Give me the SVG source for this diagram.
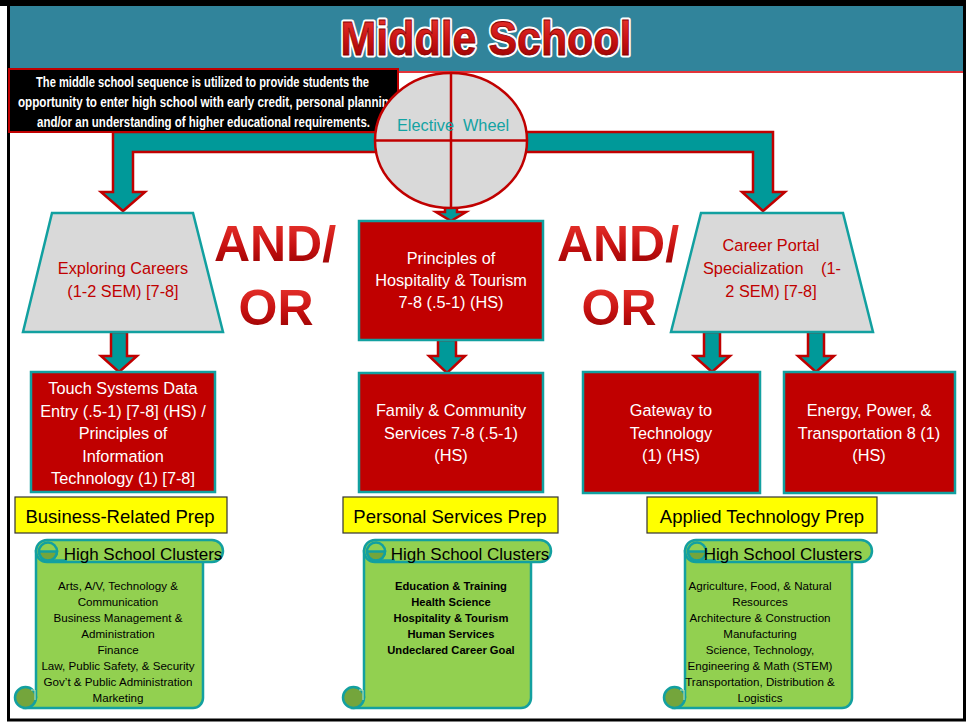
<svg xmlns="http://www.w3.org/2000/svg" width="969" height="723" viewBox="0 0 969 723">
<defs>
<linearGradient id="redGrad" x1="0" y1="0" x2="0" y2="1">
<stop offset="0" stop-color="#ee3b33"/>
<stop offset="0.55" stop-color="#c61010"/>
<stop offset="1" stop-color="#8c0000"/>
</linearGradient>
<g id="scroll">
<path d="M21,11 H188 V158 A10,10 0 0 1 178,168 H10.5 L21,157.5 Z" class="scr"/>
<circle cx="10.5" cy="157.5" r="10.5" class="curl"/>
<path d="M16,150 L20,150 L20,160" fill="none" stroke="#cfe8b0" stroke-width="1"/>
<rect x="21" y="0" width="187" height="22" rx="11" class="scr"/>
<circle cx="33" cy="11.5" r="9" class="scr"/>
<path d="M24,11.5 A9,9 0 0 0 42,11.5 Z" class="curl"/>
<path d="M33,20.5 H52" fill="none" stroke="#13a0a0" stroke-width="2.5"/>
</g>
</defs>
<style>
.frame{fill:none;stroke:#000;stroke-width:3}
.conn{fill:#009999;stroke:#c00000;stroke-width:2.5;stroke-linejoin:miter}
.trap{fill:#d9d9d9;stroke:#12a0a0;stroke-width:2.5}
.rbox{fill:#c00000;stroke:#12a0a0;stroke-width:2.5}
.ybox{fill:#ffff00;stroke:#333;stroke-width:1.2}
.scr{fill:#92d050;stroke:#13a0a0;stroke-width:2.5}
.curl{fill:#74a53c;stroke:#13a0a0;stroke-width:2.5}
text{font-family:"Liberation Sans",Arial,sans-serif}
.wt{fill:#fff;font-size:16.3px;text-anchor:middle}
.rt{fill:#c00000;font-size:16.3px;text-anchor:middle}
.yt{fill:#000;font-size:18.5px;text-anchor:middle}
.hs{fill:#000;font-size:17px;text-anchor:middle}
.li{fill:#000;font-size:11.6px;text-anchor:middle}
.lb{fill:#000;font-size:11.2px;font-weight:bold;text-anchor:middle}
.ao{fill:url(#redGrad);font-size:50px;font-weight:bold;text-anchor:middle}
.intro{fill:#fff;font-size:15px;font-weight:bold}
</style>
<rect x="0" y="0" width="969" height="723" fill="#fff"/>
<!-- title bar -->
<g id="title">
<rect x="0" y="0" width="966" height="6" fill="#000"/>
<rect x="9" y="6" width="955" height="65" fill="#31849b"/>
<line x1="9" y1="72" x2="964" y2="72" stroke="#e3343a" stroke-width="2"/>
<text x="486" y="55" font-size="48" font-weight="bold" text-anchor="middle" textLength="291" lengthAdjust="spacingAndGlyphs" fill="#fff" stroke="#fff" stroke-width="5" stroke-linejoin="round">Middle School</text>
<text x="486" y="55" font-size="48" font-weight="bold" text-anchor="middle" textLength="291" lengthAdjust="spacingAndGlyphs" fill="url(#redGrad)" stroke="#8a0000" stroke-width="0.8">Middle School</text>
</g>
<rect x="8.5" y="3" width="956" height="717" class="frame"/>
<!-- connectors -->
<g id="connectors">
<path class="conn" d="M113,132 H773 V192 H785 L763,211 L742,192 H753 V152 H133 V192 H145 L123,211 L101,192 H113 Z"/>
<path class="conn" d="M445,202 H457 V212 H466 L451,221 L436,212 H445 Z"/>
<path class="conn" d="M111,332 H127 V356 H137 L119,372 L101,356 H111 Z"/>
<path class="conn" d="M438,340 H456 V356 H465 L447,373 L429,356 H438 Z"/>
<path class="conn" d="M704,332 H720 V356 H730 L712,372 L694,356 H704 Z"/>
<path class="conn" d="M808,332 H824 V356 H834 L816,372 L798,356 H808 Z"/>
</g>
<g id="intro">
<rect x="9" y="69" width="389" height="63" fill="#000" stroke="#c00000" stroke-width="2"/>
<g transform="scale(0.7,1)">
<text class="intro" x="51.43" y="87" textLength="475.7" lengthAdjust="spacingAndGlyphs">The middle school sequence is utilized to provide students the</text>
<text class="intro" x="25.71" y="107" textLength="540" lengthAdjust="spacingAndGlyphs">opportunity to enter high school with early credit, personal planning</text>
<text class="intro" x="52.86" y="127" textLength="475.7" lengthAdjust="spacingAndGlyphs">and/or an understanding of higher educational requirements.</text>
</g>
</g>
<g id="elective-wheel">
<ellipse cx="451" cy="140.5" rx="76" ry="67.5" fill="#d9d9d9" stroke="#c00000" stroke-width="2.5"/>
<line x1="451" y1="73" x2="451" y2="208" stroke="#c00000" stroke-width="2.5"/>
<line x1="375" y1="140.5" x2="527" y2="140.5" stroke="#c00000" stroke-width="2.5"/>
<text y="131" font-size="16.3" fill="#13a3a3"><tspan x="397">Elective</tspan><tspan x="463">Wheel</tspan></text>
</g>
<g id="exploring-careers">
<path class="trap" d="M52,213 L193,213 L223,332 L23,332 Z"/>
<text class="rt" x="123" y="274">Exploring Careers</text>
<text class="rt" x="123" y="297">(1-2 SEM) [7-8]</text>
</g>
<g id="principles-hospitality">
<rect class="rbox" x="359" y="221" width="184" height="119"/>
<text class="wt" x="451" y="264">Principles of</text>
<text class="wt" x="451" y="286">Hospitality &amp; Tourism</text>
<text class="wt" x="451" y="308">7-8 (.5-1) (HS)</text>
</g>
<g id="career-portal">
<path class="trap" d="M701,213 L843,213 L873,332 L671,332 Z"/>
<text class="rt" x="771" y="251">Career Portal</text>
<text class="rt" y="274"><tspan x="703" text-anchor="start">Specialization</tspan></text>
<text class="rt" y="274"><tspan x="841" text-anchor="end">(1-</tspan></text>
<text class="rt" x="771" y="297">2 SEM) [7-8]</text>
</g>
<g id="and-or-1">
<text class="ao" x="275" y="261">AND/</text>
<text class="ao" x="276" y="325">OR</text>
</g>
<g id="and-or-2">
<text class="ao" x="618" y="261">AND/</text>
<text class="ao" x="619" y="325">OR</text>
</g>
<g id="touch-systems">
<rect class="rbox" x="31" y="372" width="184" height="120"/>
<text class="wt" x="123" y="394">Touch Systems Data</text>
<text class="wt" x="123" y="416.5">Entry (.5-1) [7-8] (HS) /</text>
<text class="wt" x="123" y="439">Principles of</text>
<text class="wt" x="123" y="461.5">Information</text>
<text class="wt" x="123" y="484">Technology (1) [7-8]</text>
</g>
<g id="family-community">
<rect class="rbox" x="359" y="373" width="184" height="119"/>
<text class="wt" x="451" y="416">Family &amp; Community</text>
<text class="wt" x="451" y="438.5">Services 7-8 (.5-1)</text>
<text class="wt" x="451" y="461">(HS)</text>
</g>
<g id="gateway">
<rect class="rbox" x="583" y="372" width="177" height="121"/>
<text class="wt" x="671" y="416">Gateway to</text>
<text class="wt" x="671" y="438.5">Technology</text>
<text class="wt" x="671" y="461">(1) (HS)</text>
</g>
<g id="energy-power">
<rect class="rbox" x="784" y="372" width="171" height="121"/>
<text class="wt" x="869" y="416">Energy, Power, &amp;</text>
<text class="wt" x="869" y="438.5">Transportation 8 (1)</text>
<text class="wt" x="869" y="461">(HS)</text>
</g>
<g id="business-prep">
<rect class="ybox" x="15" y="497" width="212" height="36"/>
<text class="yt" x="120" y="523">Business-Related Prep</text>
</g>
<g id="personal-prep">
<rect class="ybox" x="343" y="497" width="215" height="36"/>
<text class="yt" x="450" y="523">Personal Services Prep</text>
</g>
<g id="applied-prep">
<rect class="ybox" x="647" y="497" width="230" height="36"/>
<text class="yt" x="762" y="523">Applied Technology Prep</text>
</g>
<g id="clusters-business">
<use href="#scroll" transform="translate(15,540)"/>
<text class="hs" x="143" y="560">High School Clusters</text>
<text class="li" x="118" y="590">Arts, A/V, Technology &amp;</text>
<text class="li" x="118" y="606">Communication</text>
<text class="li" x="118" y="622">Business Management &amp;</text>
<text class="li" x="118" y="638">Administration</text>
<text class="li" x="118" y="654">Finance</text>
<text class="li" x="118" y="670">Law, Public Safety, &amp; Security</text>
<text class="li" x="118" y="686">Gov’t &amp; Public Administration</text>
<text class="li" x="118" y="702">Marketing</text>
</g>
<g id="clusters-personal">
<use href="#scroll" transform="translate(343,540)"/>
<text class="hs" x="470" y="560">High School Clusters</text>
<text class="lb" x="451" y="590">Education &amp; Training</text>
<text class="lb" x="451" y="606">Health Science</text>
<text class="lb" x="451" y="622">Hospitality &amp; Tourism</text>
<text class="lb" x="451" y="638">Human Services</text>
<text class="lb" x="451" y="654">Undeclared Career Goal</text>
</g>
<g id="clusters-applied">
<use href="#scroll" transform="translate(664,540)"/>
<text class="hs" x="783" y="560">High School Clusters</text>
<text class="li" x="760" y="590">Agriculture, Food, &amp; Natural</text>
<text class="li" x="760" y="606">Resources</text>
<text class="li" x="760" y="622">Architecture &amp; Construction</text>
<text class="li" x="760" y="638">Manufacturing</text>
<text class="li" x="760" y="654">Science, Technology,</text>
<text class="li" x="760" y="670">Engineering &amp; Math (STEM)</text>
<text class="li" x="760" y="686">Transportation, Distribution &amp;</text>
<text class="li" x="760" y="702">Logistics</text>
</g>
</svg>
